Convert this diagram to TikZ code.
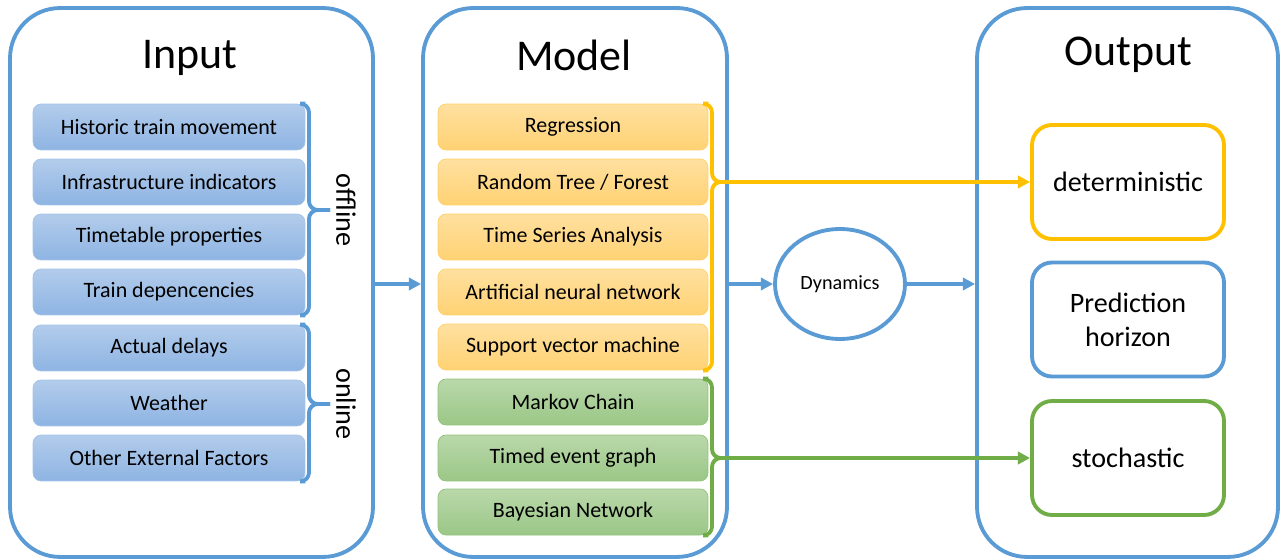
\documentclass[tikz,border=0pt]{standalone}
\usepackage{fontspec}
\setmainfont{Carlito}
\usepackage{tikz}
\usetikzlibrary{arrows.meta,shapes.geometric}

\definecolor{frameblue}{RGB}{91,155,213}
\definecolor{inptop}{RGB}{178,204,235}
\definecolor{inpbot}{RGB}{142,180,227}
\definecolor{mlgold}{RGB}{255,192,0}
\definecolor{mltop}{RGB}{255,224,160}
\definecolor{mlbot}{RGB}{255,210,115}
\definecolor{stgreen}{RGB}{112,173,71}
\definecolor{sttop}{RGB}{186,216,170}
\definecolor{stbot}{RGB}{154,199,135}

\tikzset{
  frame/.style = {draw=frameblue, line width=2.2pt, rounded corners=1cm,
                  minimum height=10.98cm},
  title/.style = {font=\fontsize{25}{30}\selectfont},
  item/.style  = {rounded corners=0.16cm, minimum width=5.44cm,
                   minimum height=0.92cm, font=\fontsize{12.5}{15}\selectfont},
  inp/.style   = {item, draw=inpbot!80, top color=inptop, bottom color=inpbot},
  ml/.style    = {item, minimum width=5.4cm, draw=mlbot!90!mlgold,
                  top color=mltop, bottom color=mlbot},
  st/.style    = {item, minimum width=5.4cm, draw=stbot!80!stgreen,
                  top color=sttop, bottom color=stbot},
  result/.style= {draw=#1, line width=2.2pt, rounded corners=0.4cm,
                  minimum width=3.84cm, minimum height=2.28cm, align=center,
                  font=\fontsize{16}{19.5}\selectfont},
  grp/.style   = {font=\fontsize{16}{19}\selectfont, rotate=-90},
  bracket/.style = {draw=#1, line width=2.2pt, rounded corners=5pt},
  flow/.style  = {draw=#1, line width=2.2pt,
                  -{Triangle[length=7pt,width=7pt]}},
}

\begin{document}
\begin{tikzpicture}[x=0.02cm, y=-0.02cm]
    \useasboundingbox (0,0) rectangle (1283,560);

    % the three columns
    \node [frame, minimum width=7.26cm] (input)  at (191.5,282.5) {};
    \node [frame, minimum width=6.08cm] (model)  at (575,282.5)   {};
    \node [frame, minimum width=6.02cm] (output) at (1127.5,282.5) {};

    \node [title] (inptitle) at (190,58)  {Input};
    \node [title] (modtitle) at (574,55)  {Model};
    \node [title] (outtitle) at (1128,55) {Output};

    % input data
    \node [inp] (hist)    at (169,127) {Historic train movement};
    \node [inp] (infra)   at (169,182) {Infrastructure indicators};
    \node [inp] (ttable)  at (169,237) {Timetable properties};
    \node [inp] (depend)  at (169,292) {Train depencencies};
    \node [inp] (delays)  at (169,348) {Actual delays};
    \node [inp] (weather) at (169,403) {Weather};
    \node [inp] (extern)  at (169,458) {Other External Factors};

    \coordinate (offmid) at (309,210);
    \coordinate (offtip) at (330,210);
    \coordinate (onmid)  at (309,404);
    \coordinate (ontip)  at (330,404);

    \draw [bracket=frameblue] (hist.north east)   -| (offmid) -- (offtip);
    \draw [bracket=frameblue] (depend.south east) -| (offmid) -- (offtip);
    \draw [bracket=frameblue] (delays.north east) -| (onmid) -- (ontip);
    \draw [bracket=frameblue] (extern.south east) -| (onmid) -- (ontip);

    \node [grp] (offlbl) at (346,210) {offline};
    \node [grp] (onlbl)  at (346,404) {online};

    % models
    \node [ml] (regr)   at (573,127) {Regression};
    \node [ml] (forest) at (573,182) {Random Tree / Forest};
    \node [ml] (series) at (573,237) {Time Series Analysis};
    \node [ml] (ann)    at (573,292) {Artificial neural network};
    \node [ml] (svm)    at (573,347) {Support vector machine};
    \node [st] (markov) at (573,402) {Markov Chain};
    \node [st] (teg)    at (573,458) {Timed event graph};
    \node [st] (bayes)  at (573,512) {Bayesian Network};

    \coordinate (detmid) at (712,182);
    \coordinate (dettip) at (724,182);
    \coordinate (stomid) at (712,458);
    \coordinate (stotip) at (724,458);

    \draw [bracket=mlgold]  (regr.north east)   -| (detmid) -- (dettip);
    \draw [bracket=mlgold]  (svm.south east)    -| (detmid) -- (dettip);
    \draw [bracket=stgreen] (markov.north east) -| (stomid) -- (stotip);
    \draw [bracket=stgreen] (bayes.south east)  -| (stomid) -- (stotip);

    % dynamics
    \node [ellipse, draw=frameblue, line width=2.2pt, minimum width=2.6cm,
           minimum height=2.2cm, font=\fontsize{11.5}{14}\selectfont]
           (dyn) at (840,284) {Dynamics};

    % outputs
    \node [result=mlgold]    (det)     at (1128,182)   {deterministic};
    \node [result=frameblue] (horizon) at (1128,319.5) {Prediction\\horizon};
    \node [result=stgreen]   (stoch)   at (1128,458)   {stochastic};

    \draw [flow=frameblue] (input.east |- dyn.west) -- (model.west |- dyn.west);
    \draw [flow=frameblue] (model.east |- dyn.west) -- (dyn.west);
    \draw [flow=frameblue] (dyn.east) -- (output.west |- dyn.east);
    \draw [flow=mlgold]  (dettip) -- (det.west);
    \draw [flow=stgreen] (stotip) -- (stoch.west);
\end{tikzpicture}
\end{document}
